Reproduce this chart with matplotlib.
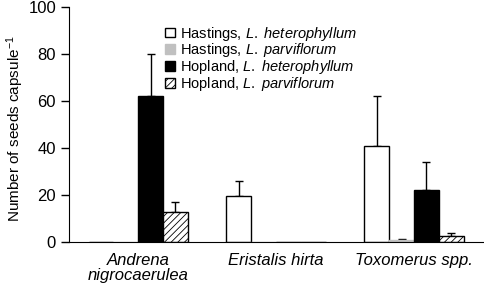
import matplotlib
matplotlib.use("Agg")
import matplotlib.pyplot as plt
import numpy as np

plt.rcParams['font.family'] = ['Liberation Sans', 'DejaVu Sans']
plt.rcParams['mathtext.fontset'] = 'custom'
plt.rcParams['mathtext.rm'] = 'Liberation Sans'
plt.rcParams['mathtext.it'] = 'Liberation Sans:italic'
plt.rcParams['hatch.linewidth'] = 0.6

groups = ["Andrena\nnigrocaerulea", "Eristalis hirta", "Toxomerus spp."]
series = [r"Hastings, $\it{L.\ heterophyllum}$",
          r"Hastings, $\it{L.\ parviflorum}$",
          r"Hopland, $\it{L.\ heterophyllum}$",
          r"Hopland, $\it{L.\ parviflorum}$"]
hast_het = [0, 19.5, 41]
hast_het_err = [0, 6.3, 21]
hast_parv = [0, 0, 0.6]
hast_parv_err = [0, 0, 0.7]
hop_het = [62, 0, 22]
hop_het_err = [18, 0, 12.2]
hop_parv = [12.9, 0, 2.3]
hop_parv_err = [4.0, 0, 1.4]

values = [hast_het, hast_parv, hop_het, hop_parv]
errors = [hast_het_err, hast_parv_err, hop_het_err, hop_parv_err]
faces = ['white', '#c0c0c0', 'black', 'white']
edges = ['black', '#c0c0c0', 'black', 'black']
hatches = [None, None, None, '/////']

fig = plt.figure(figsize=(4.84, 2.9), dpi=100)
ax = fig.add_axes([0.143, 0.166, 0.855, 0.81])

x = np.arange(len(groups))
w = 0.18
for i in range(4):
    pos = x + (i - 1.5) * w
    ax.bar(pos, values[i], w, color=faces[i], edgecolor=edges[i],
           hatch=hatches[i], linewidth=1, label=series[i], zorder=2)
    for p, v, e in zip(pos, values[i], errors[i]):
        if e > 0:
            ax.errorbar(p, v, yerr=[[0], [e]], fmt='none', ecolor='black',
                        elinewidth=1, capsize=3, capthick=1, zorder=1)

ax.set_xlim(-0.5, 2.5)
ax.set_ylim(0, 100)
ax.set_yticks([0, 20, 40, 60, 80, 100])
ax.set_xticks(x)
ax.set_xticklabels(groups, style='italic', fontsize=12, linespacing=1.0)
ax.tick_params(axis='x', length=0, pad=8)
ax.tick_params(axis='y', labelsize=12, length=6, width=1, direction='out')
ax.spines['top'].set_visible(False)
ax.spines['right'].set_visible(False)
ax.set_ylabel(r"Number of seeds capsule$^{\mathrm{-1}}$", fontsize=11)
ax.yaxis.set_label_coords(-0.104, 0.48)

ax.legend(loc='upper left', bbox_to_anchor=(0.232, 0.925), frameon=False,
          fontsize=10.5, handlelength=0.65, handleheight=0.65, handletextpad=0.35,
          labelspacing=-0.08, borderaxespad=0, borderpad=0)

fig.savefig("out.png", dpi=100)
